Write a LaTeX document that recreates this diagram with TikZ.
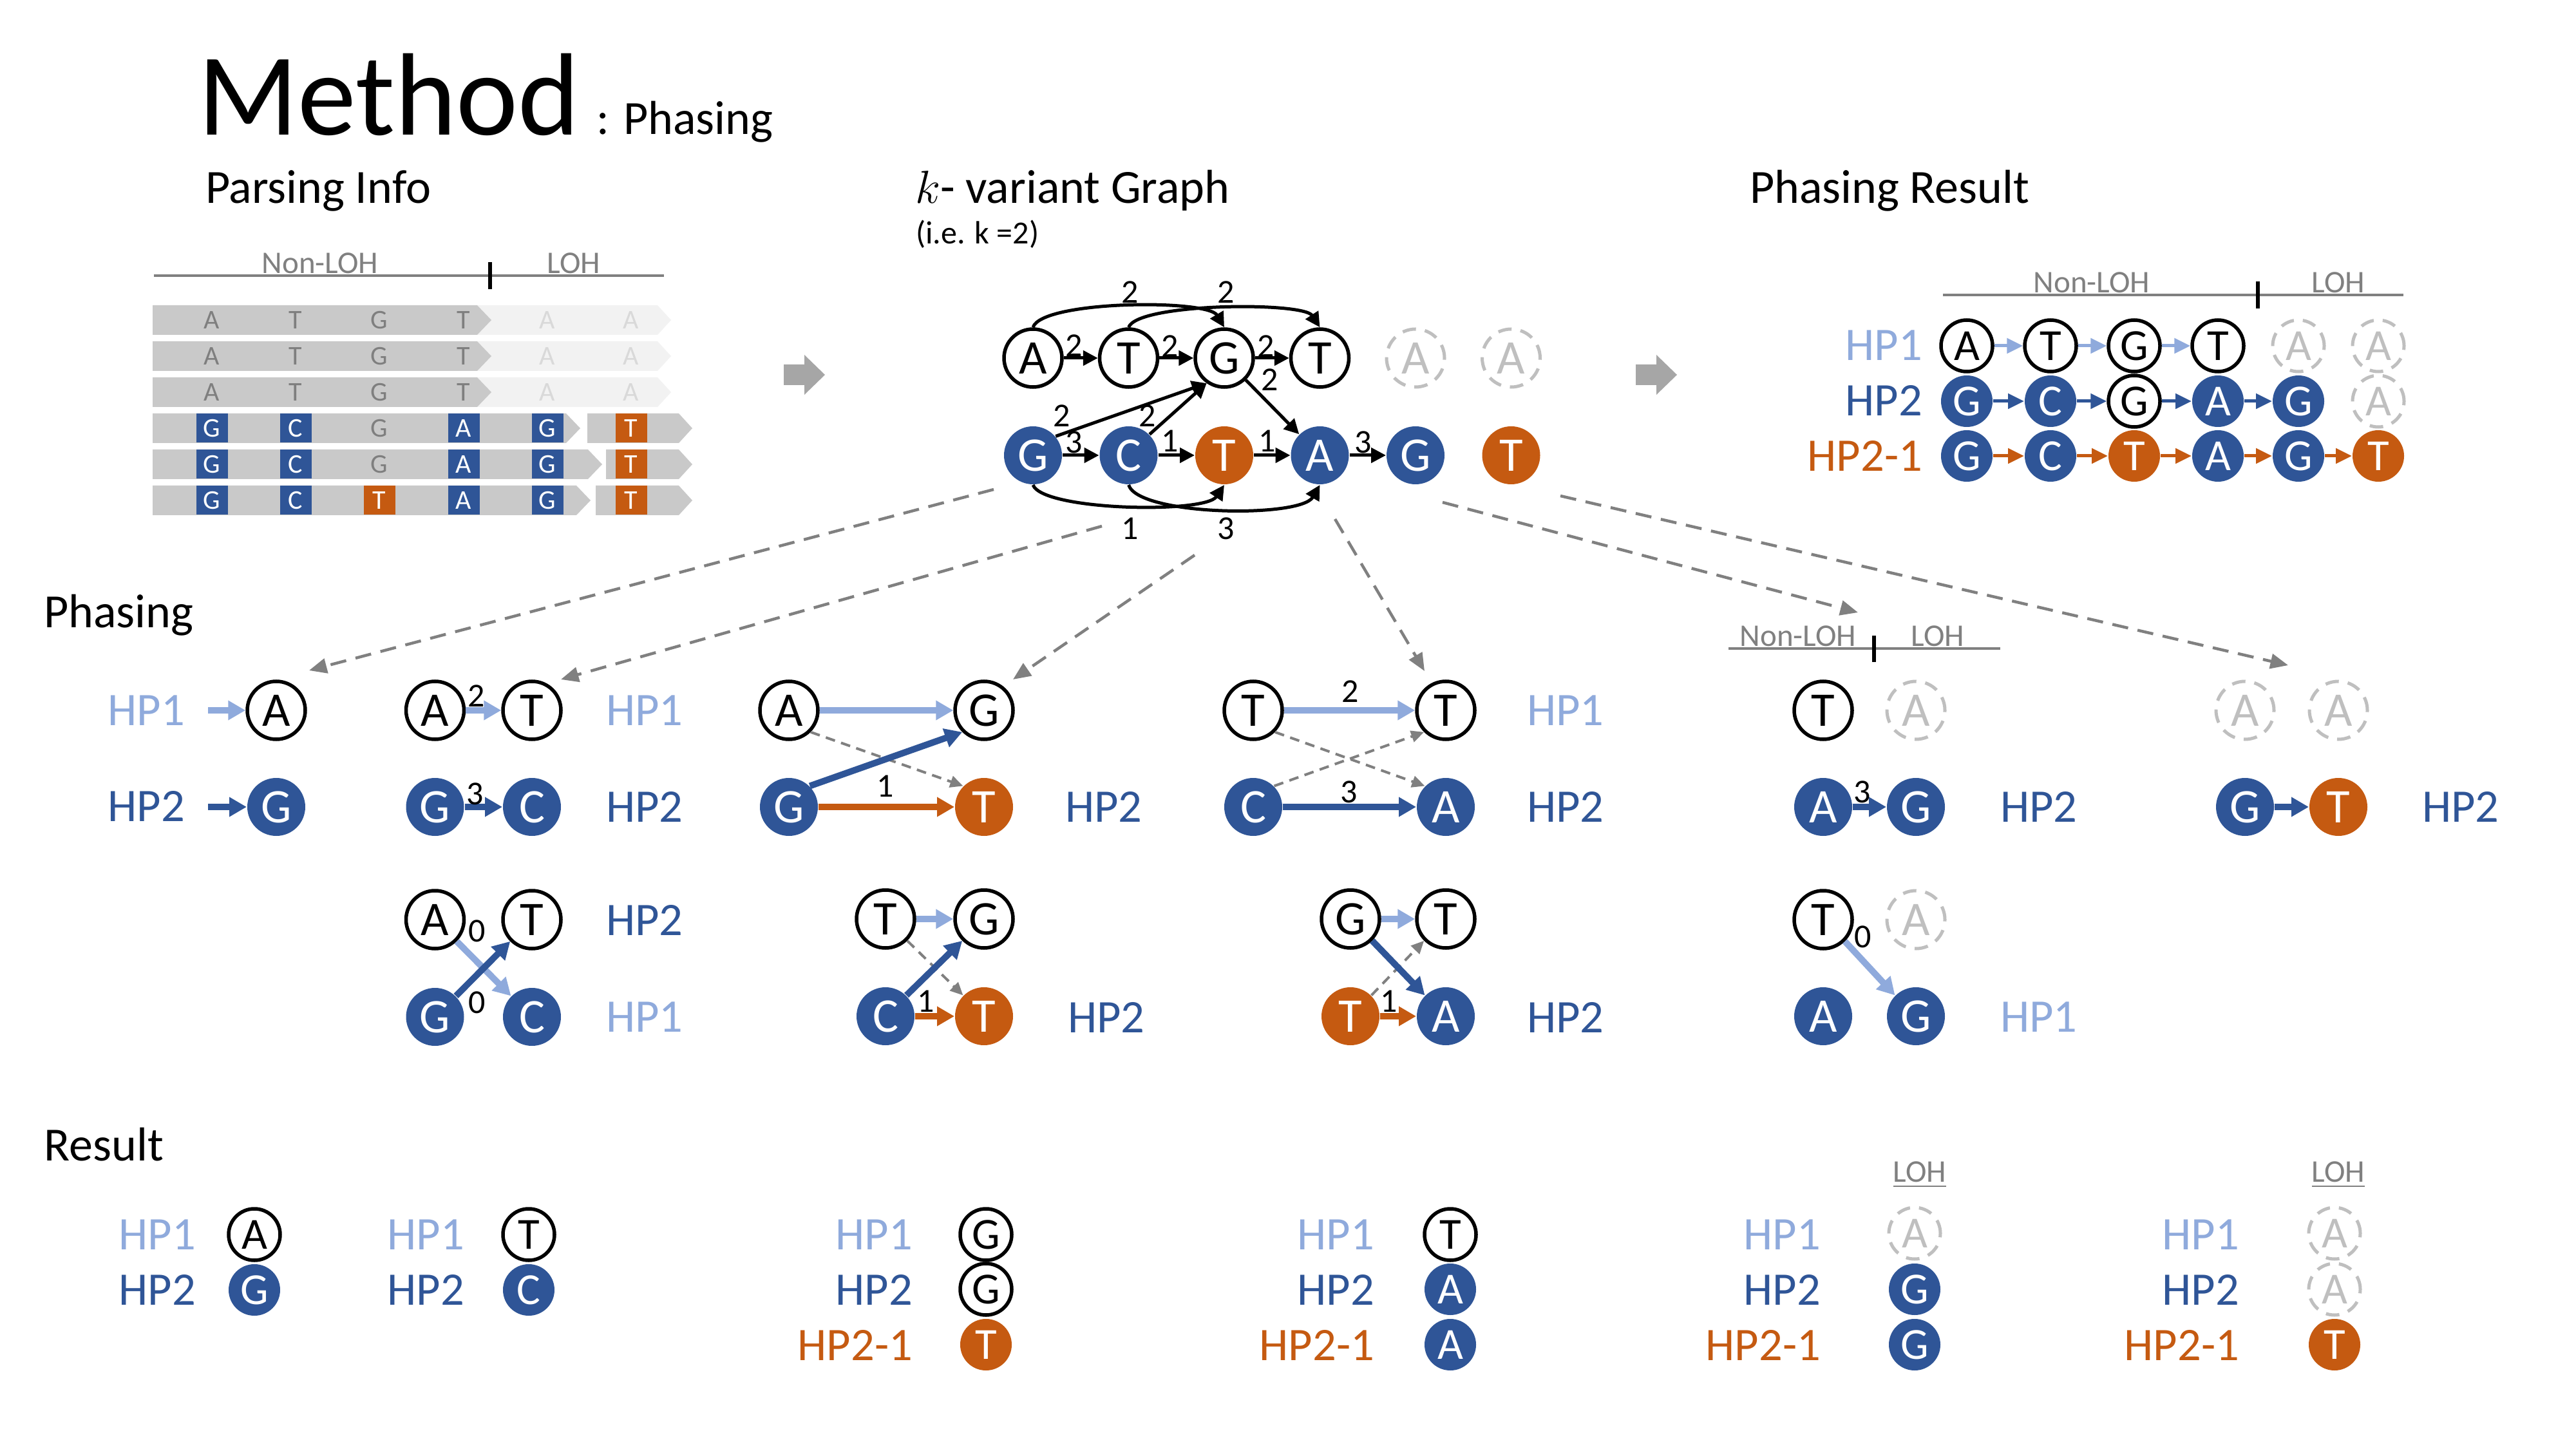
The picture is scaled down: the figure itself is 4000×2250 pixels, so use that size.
\documentclass[tikz,border=0pt]{standalone}
\usepackage{fontspec}
\setmainfont{Carlito}
\usetikzlibrary{arrows.meta,calc}
\definecolor{hpblue}{HTML}{2F5597}
\definecolor{hplight}{HTML}{8FAADC}
\definecolor{hporange}{HTML}{C55A11}
\definecolor{gline}{HTML}{808080}
\definecolor{ghost}{HTML}{BFBFBF}
\definecolor{readdark}{HTML}{C9C9C9}
\definecolor{readlight}{HTML}{F2F2F2}
\definecolor{readtxt}{HTML}{7F7F7F}
\definecolor{readtxtl}{HTML}{D9D9D9}
\definecolor{bigarrow}{HTML}{A6A6A6}
\newcommand\myfs[1]{\fontsize{#1}{#1}\selectfont}
\tikzset{
  nd/.style={circle, inner sep=0pt, minimum size=18pt, font=\myfs{15}},
  nsm/.style={minimum size=16pt, font=\myfs{13.8}},
  nw/.style={nd, draw=black, line width=1.1pt, fill=white},
  nb/.style={nd, fill=hpblue, text=white},
  nor/.style={nd, fill=hporange, text=white},
  ng/.style={nd, draw=ghost, line width=1pt, dash pattern=on 4.2pt off 2.8pt, text=ghost},
  hpl/.style={font=\myfs{14.5}, inner sep=0pt},
  hp1/.style={hpl, text=hplight},
  hp2/.style={hpl, text=hpblue},
  hp21/.style={hpl, text=hporange},
  wl/.style={font=\myfs{10.4}, inner sep=0pt},
  hdr/.style={font=\myfs{14.8}, inner sep=0pt, anchor=base west},
  loh/.style={font=\myfs{9.8}, text=gline, inner sep=0pt, anchor=base},
  gedge/.style={draw=black, line width=1pt, -{Triangle[length=4.6pt,width=4.6pt]}},
  tka/.style={line width=2pt, -{Triangle[length=5.4pt,width=5.8pt]}},
  lba/.style={tka, draw=hplight},
  dba/.style={tka, draw=hpblue},
  oba/.style={tka, draw=hporange},
  res/.style={line width=1pt, -{Triangle[length=5pt,width=4.6pt]}},
  ldash/.style={draw=gline, line width=0.9pt, dash pattern=on 5pt off 3pt, -{Triangle[length=5.5pt,width=4.6pt]}},
  sdash/.style={draw=gline, line width=0.8pt, dash pattern=on 3pt off 2pt, -{Triangle[length=4pt,width=3.6pt]}},
  rtx/.style={font=\myfs{8.4}, inner sep=0pt},
}
\begin{document}
\begin{tikzpicture}[x=0.2pt,y=-0.2pt]
\fill[white] (0,0) rectangle (4000,2250);
\useasboundingbox (0,0) rectangle (4000,2250);

% ---------- titles ----------
\node[anchor=base west, inner sep=0pt, font=\myfs{36.4}] (title) at (306,210) {Method};
\node[anchor=base west, inner sep=0pt, font=\myfs{14.8}] (subt) at (925,209) {: Phasing};
\node[hdr] (hparse) at (318,316) {Parsing Info};
\node[hdr] (hgraph) at (1420,316) {$k$- variant Graph};
\node[anchor=base west, inner sep=0pt, font=\myfs{10}] (hie) at (1421,379) {(i.e. k =2)};
\node[hdr] (hres) at (2716,316) {Phasing Result};
\node[hdr] (hphase) at (67,974) {Phasing};
\node[hdr] (hresult) at (68,1802) {Result};

% ---------- Parsing info ----------
\draw[gline, line width=0.8pt] (239,428) -- (1031,428);
\draw[black, line width=1.2pt] (761,407) -- (761,449);
\node[loh] (pn1) at (497,425) {Non-LOH};
\node[loh] (pl1) at (891,425) {LOH};
\foreach \y in {497,553,609} {
  \fill[readlight] (741,\y-23) -- (1021,\y-23) -- (1042,\y) -- (1021,\y+23) -- (741,\y+23) -- (763,\y) -- cycle;
  \fill[readdark] (237,\y-23) -- (741,\y-23) -- (763,\y) -- (741,\y+23) -- (237,\y+23) -- cycle;
  \foreach \x/\l in {329/A,459/T,589/G,720/T} {
    \node[rtx, text=readtxt] (rg\x\y) at (\x,\y) {\l};
  }
  \foreach \x in {850,980} {
    \node[rtx, text=readtxtl] (rl\x\y) at (\x,\y) {A};
  }
}
\foreach \y/\e/\s in {665/879/912, 721/913/941, 777/895/925} {
  \fill[readdark] (237,\y-23) -- (\e,\y-23) -- (\e+22,\y) -- (\e,\y+23) -- (237,\y+23) -- cycle;
  \fill[readdark] (\s,\y-23) -- (1054,\y-23) -- (1075,\y) -- (1054,\y+23) -- (\s,\y+23) -- cycle;
  \foreach \x/\l in {329/G,459/C,720/A,850/G} {
    \fill[hpblue] (\x-24.5,\y-22.5) rectangle (\x+24.5,\y+22.5);
    \node[rtx, text=white] (rb\x\y) at (\x,\y) {\l};
  }
  \fill[hporange] (955.5,\y-22.5) rectangle (1004.5,\y+22.5);
  \node[rtx, text=white] (ro\y) at (980,\y) {T};
}
\node[rtx, text=readtxt] (rgG4) at (589,665) {G};
\node[rtx, text=readtxt] (rgG5) at (589,721) {G};
\fill[hporange] (564.5,754.5) rectangle (613.5,799.5);
\node[rtx, text=white] (roT6) at (589,777) {T};

% ---------- big arrows ----------
\fill[bigarrow] (1217,566) -- (1249,566) -- (1249,551) -- (1281,582) -- (1249,613) -- (1249,598) -- (1217,598) -- cycle;
\fill[bigarrow] (2540,566) -- (2572,566) -- (2572,551) -- (2604,582) -- (2572,613) -- (2572,598) -- (2540,598) -- cycle;

% ---------- k-variant graph ----------
\node[nw] (gA) at (1604,556) {A};
\node[nw] (gT) at (1752.5,556) {T};
\node[nw] (gG) at (1901,556) {G};
\node[nw] (gT2) at (2049.5,556) {T};
\node[ng] (gA2) at (2198,556) {A};
\node[ng] (gA3) at (2346.5,556) {A};
\node[nb] (hG) at (1604,707) {G};
\node[nb] (hC) at (1752.5,707) {C};
\node[nor] (hT) at (1901,707) {T};
\node[nb] (hA) at (2049.5,707) {A};
\node[nb] (hG2) at (2198,707) {G};
\node[nor] (hT2) at (2346.5,707) {T};
\draw[gedge] (gA) -- (gT);
\draw[gedge] (gT) -- (gG);
\draw[gedge] (gG) -- (gT2);
\draw[gedge] (hG) -- (hC);
\draw[gedge] (hC) -- (hT);
\draw[gedge] (hT) -- (hA);
\draw[gedge] (hA) -- (hG2);
\draw[gedge] (gA.north) .. controls +(14,-42) and +(-26,-44) .. (gG.north);
\draw[gedge] (gT.north) .. controls +(14,-38) and +(-26,-40) .. (gT2.north);
\draw[gedge] (hG.south) .. controls +(15,40) and +(-30,45) .. (hT.south);
\draw[gedge] (hC.south) .. controls +(15,48) and +(-30,52) .. (hA.south);
\draw[gedge] (hG.40) -- (gG.235);
\draw[gedge] (hC.45) -- (gG.235);
\draw[gedge] (gG) -- (hA);
\node[wl] (w1) at (1668,537) {2};
\node[wl] (w2) at (1817,538) {2};
\node[wl] (w3) at (1966,538) {2};
\node[wl] (w4) at (1972,590) {2};
\node[wl] (w5) at (1755,454) {2};
\node[wl] (w6) at (1904,454) {2};
\node[wl] (w7) at (1649,646) {2};
\node[wl] (w8) at (1782,646) {2};
\node[wl] (w9) at (1668,687) {3};
\node[wl] (w10) at (1817,685) {1};
\node[wl] (w11) at (1968,685) {1};
\node[wl] (w12) at (2117,687) {3};
\node[wl] (w13) at (1755,821) {1};
\node[wl] (w14) at (1904,821) {3};

% ---------- Phasing result ----------
\draw[gline, line width=0.8pt] (3017,458) -- (3732,458);
\draw[black, line width=1.2pt] (3506,437) -- (3506,479);
\node[loh] (pn2) at (3248,455) {Non-LOH};
\node[loh] (pl2) at (3631,455) {LOH};
\node[hp1, anchor=base east] (q1l) at (2986,560) {HP1};
\node[hp2, anchor=base east] (q2l) at (2986,646) {HP2};
\node[hp21, anchor=base east] (q3l) at (2986,732) {HP2-1};
\node[nw,nsm] (q11) at (3054,537) {A};
\node[nw,nsm] (q12) at (3184,537) {T};
\node[nw,nsm] (q13) at (3314,537) {G};
\node[nw,nsm] (q14) at (3444,537) {T};
\node[ng,nsm] (q15) at (3569,537) {A};
\node[ng,nsm] (q16) at (3693,537) {A};
\node[nb,nsm] (q21) at (3054,623) {G};
\node[nb,nsm] (q22) at (3184,623) {C};
\node[nw,nsm] (q23) at (3314,623) {G};
\node[nb,nsm] (q24) at (3444,623) {A};
\node[nb,nsm] (q25) at (3569,623) {G};
\node[ng,nsm] (q26) at (3693,623) {A};
\node[nb,nsm] (q31) at (3054,708) {G};
\node[nb,nsm] (q32) at (3184,708) {C};
\node[nor,nsm] (q33) at (3314,708) {T};
\node[nb,nsm] (q34) at (3444,708) {A};
\node[nb,nsm] (q35) at (3569,708) {G};
\node[nor,nsm] (q36) at (3693,708) {T};
\draw[res, draw=hplight] (q11) -- (q12);
\draw[res, draw=hplight] (q12) -- (q13);
\draw[res, draw=hplight] (q13) -- (q14);
\draw[res, draw=hpblue] (q21) -- (q22);
\draw[res, draw=hpblue] (q22) -- (q23);
\draw[res, draw=hpblue] (q23) -- (q24);
\draw[res, draw=hpblue] (q24) -- (q25);
\draw[res, draw=hporange] (q31) -- (q32);
\draw[res, draw=hporange] (q32) -- (q33);
\draw[res, draw=hporange] (q33) -- (q34);
\draw[res, draw=hporange] (q34) -- (q35);
\draw[res, draw=hporange] (q35) -- (q36);

% ---------- Phasing blocks ----------
% block 1
\node[nw] (a1) at (429,1103) {A};
\node[nb] (a2) at (429,1253) {G};
\node[hp1, anchor=base east] (a1l) at (288,1126) {HP1};
\node[hp2, anchor=base east] (a2l) at (288,1275) {HP2};
\coordinate (a1s) at (323,1103);
\coordinate (a2s) at (323,1253);
\draw[lba] (a1s) -- (a1);
\draw[dba] (a2s) -- (a2);
% block 2
\node[nw] (b1) at (675.5,1103) {A};
\node[nw] (b2) at (826,1103) {T};
\node[nb] (b3) at (675.5,1253) {G};
\node[nb] (b4) at (826,1253) {C};
\node[nw] (b5) at (675.5,1428) {A};
\node[nw] (b6) at (826,1428) {T};
\node[nb] (b7) at (675.5,1579) {G};
\node[nb] (b8) at (826,1579) {C};
\node[hp1, anchor=base west] (b1l) at (940,1126) {HP1};
\node[hp2, anchor=base west] (b2l) at (940,1276) {HP2};
\node[hp2, anchor=base west] (b3l) at (940,1452) {HP2};
\node[hp1, anchor=base west] (b4l) at (940,1602) {HP1};
\draw[lba] (b1) -- (b2);
\draw[dba] (b3) -- (b4);
\draw[lba] (b5.-45) -- (b8.135);
\draw[dba] (b7.45) -- (b6.225);
\node[wl] (bw1) at (740,1081) {2};
\node[wl] (bw2) at (738,1233) {3};
\node[wl] (bw3) at (741,1446) {0};
\node[wl] (bw4) at (741,1557) {0};
% block 3
\node[nw] (c1) at (1225,1103) {A};
\node[nw] (c2) at (1528,1103) {G};
\node[nb] (c3) at (1225,1253) {G};
\node[nor] (c4) at (1528,1253) {T};
\node[nw] (c5) at (1375,1427) {T};
\node[nw] (c6) at (1528,1427) {G};
\node[nb] (c7) at (1375,1578) {C};
\node[nor] (c8) at (1528,1578) {T};
\node[hp2, anchor=base west] (c1l) at (1653,1276) {HP2};
\node[hp2, anchor=base west] (c2l) at (1657,1603) {HP2};
\draw[sdash] (c1.-45) -- (c4.135);
\draw[lba] (c1) -- (c2);
\draw[dba] (c3.45) -- (c2.225);
\draw[oba] (c3) -- (c4);
\draw[sdash] (c5.-45) -- (c8.135);
\draw[lba] (c5) -- (c6);
\draw[dba] (c7.45) -- (c6.225);
\draw[oba] (c7) -- (c8);
\node[wl] (cw1) at (1375,1221) {1};
\node[wl] (cw2) at (1438,1555) {1};
% block 4
\node[nw] (d1) at (1946,1103) {T};
\node[nw] (d2) at (2245,1103) {T};
\node[nb] (d3) at (1946,1253) {C};
\node[nb] (d4) at (2245,1253) {A};
\node[nw] (d5) at (2097,1427) {G};
\node[nw] (d6) at (2245,1427) {T};
\node[nor] (d7) at (2097,1578) {T};
\node[nb] (d8) at (2245,1578) {A};
\node[hp1, anchor=base west] (d1l) at (2370,1126) {HP1};
\node[hp2, anchor=base west] (d2l) at (2370,1276) {HP2};
\node[hp2, anchor=base west] (d3l) at (2370,1603) {HP2};
\draw[sdash] (d1.-45) -- (d4.135);
\draw[sdash] (d3.45) -- (d2.225);
\draw[lba] (d1) -- (d2);
\draw[dba] (d3) -- (d4);
\draw[sdash] (d7.45) -- (d6.225);
\draw[lba] (d5) -- (d6);
\draw[dba] (d5.-45) -- (d8.135);
\draw[oba] (d7) -- (d8);
\node[wl] (dw1) at (2097,1074) {2};
\node[wl] (dw2) at (2095,1230) {3};
\node[wl] (dw3) at (2157,1555) {1};
% block 5
\draw[gline, line width=0.8pt] (2684,1007) -- (3106,1007);
\draw[black, line width=1.2pt] (2910,987) -- (2910,1028);
\node[loh] (pn3) at (2792,1004) {Non-LOH};
\node[loh] (pl3) at (3009,1004) {LOH};
\node[nw] (e1) at (2831,1103) {T};
\node[ng] (e2) at (2975,1103) {A};
\node[nb] (e3) at (2831,1253) {A};
\node[nb] (e4) at (2975,1253) {G};
\node[nw] (e5) at (2831,1428) {T};
\node[ng] (e6) at (2975,1428) {A};
\node[nb] (e7) at (2831,1578) {A};
\node[nb] (e8) at (2975,1578) {G};
\node[hp2, anchor=base west] (e1l) at (3105,1276) {HP2};
\node[hp1, anchor=base west] (e2l) at (3105,1602) {HP1};
\draw[dba] (e3) -- (e4);
\draw[lba] (e5.-45) -- (e8.135);
\node[wl] (ew1) at (2892,1230) {3};
\node[wl] (ew2) at (2893,1455) {0};
% block 6
\node[ng] (f1) at (3486,1103) {A};
\node[ng] (f2) at (3631,1103) {A};
\node[nb] (f3) at (3486,1253) {G};
\node[nor] (f4) at (3631,1253) {T};
\node[hp2, anchor=base west] (f1l) at (3760,1276) {HP2};
\draw[dba] (f3) -- (f4);

% ---------- long dashed arrows ----------
\coordinate (s1) at (1543,760);  \coordinate (t1) at (480,1041);
\coordinate (s2) at (1711,817);  \coordinate (t2) at (871,1055);
\coordinate (s3) at (1855,862);  \coordinate (t3) at (1573,1055);
\coordinate (s4) at (2073,806);  \coordinate (t4) at (2212,1042);
\coordinate (s5) at (2240,780);  \coordinate (t5) at (2885,951);
\coordinate (s6) at (2423,770);  \coordinate (t6) at (3553,1033);
\draw[ldash] (s1) -- (t1);
\draw[ldash] (s2) -- (t2);
\draw[ldash] (s3) -- (t3);
\draw[ldash] (s4) -- (t4);
\draw[ldash] (s5) -- (t5);
\draw[ldash] (s6) -- (t6);

% ---------- Result ----------
\node[hp1, anchor=base east] (r1a) at (305,1940) {HP1};
\node[hp2, anchor=base east] (r1b) at (305,2026) {HP2};
\node[nw,nsm] (r1n1) at (395,1917) {A};
\node[nb,nsm] (r1n2) at (395,2003) {G};
\node[hp1, anchor=base east] (r2a) at (722,1940) {HP1};
\node[hp2, anchor=base east] (r2b) at (722,2026) {HP2};
\node[nw,nsm] (r2n1) at (821,1917) {T};
\node[nb,nsm] (r2n2) at (821,2003) {C};
\node[hp1, anchor=base east] (r3a) at (1418,1940) {HP1};
\node[hp2, anchor=base east] (r3b) at (1418,2026) {HP2};
\node[hp21, anchor=base east] (r3c) at (1418,2112) {HP2-1};
\node[nw,nsm] (r3n1) at (1531,1917) {G};
\node[nw,nsm] (r3n2) at (1531,2002) {G};
\node[nor,nsm] (r3n3) at (1531,2088) {T};
\node[hp1, anchor=base east] (r4a) at (2135,1940) {HP1};
\node[hp2, anchor=base east] (r4b) at (2135,2026) {HP2};
\node[hp21, anchor=base east] (r4c) at (2135,2112) {HP2-1};
\node[nw,nsm] (r4n1) at (2252,1917) {T};
\node[nb,nsm] (r4n2) at (2252,2002) {A};
\node[nb,nsm] (r4n3) at (2252,2088) {A};
\node[loh] (rl5) at (2981,1835) {\underline{LOH}};
\node[hp1, anchor=base east] (r5a) at (2828,1940) {HP1};
\node[hp2, anchor=base east] (r5b) at (2828,2026) {HP2};
\node[hp21, anchor=base east] (r5c) at (2828,2112) {HP2-1};
\node[ng,nsm] (r5n1) at (2973,1915) {A};
\node[nb,nsm] (r5n2) at (2973,2002) {G};
\node[nb,nsm] (r5n3) at (2973,2088) {G};
\node[loh] (rl6) at (3631,1835) {\underline{LOH}};
\node[hp1, anchor=base east] (r6a) at (3478,1940) {HP1};
\node[hp2, anchor=base east] (r6b) at (3478,2026) {HP2};
\node[hp21, anchor=base east] (r6c) at (3478,2112) {HP2-1};
\node[ng,nsm] (r6n1) at (3625,1915) {A};
\node[ng,nsm] (r6n2) at (3625,2002) {A};
\node[nor,nsm] (r6n3) at (3625,2088) {T};
\end{tikzpicture}
\end{document}
